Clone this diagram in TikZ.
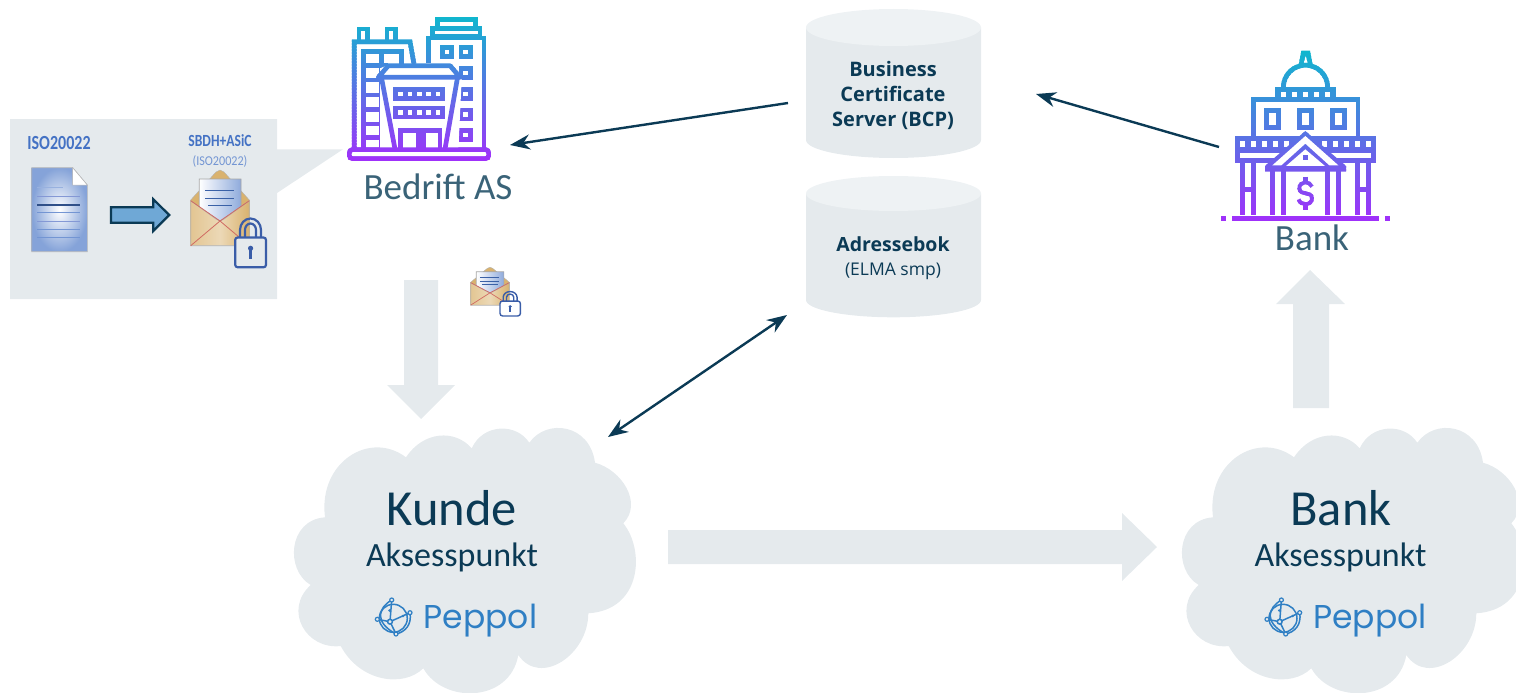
\documentclass[tikz,border=0pt]{standalone}
\usepackage{fontspec}
\usetikzlibrary{arrows.meta,calc}
\setmainfont{Carlito}
\newfontfamily\tah{Open Sans}
\newfontfamily\pep{Poppins}
\definecolor{paleg}{HTML}{E5EAED}
\definecolor{paleh}{HTML}{EEF2F4}
\definecolor{navy}{HTML}{0B3A55}
\definecolor{slate}{HTML}{3A6378}
\definecolor{gradA}{HTML}{10B6CE}
\definecolor{gradB}{HTML}{A22EFB}
\definecolor{docblue}{HTML}{4472C4}
\definecolor{lockblue}{HTML}{3A5DA8}
\definecolor{pepblue}{HTML}{2F7FC4}
\definecolor{flap}{HTML}{D9B26E}
\definecolor{redline}{HTML}{D06A62}
\definecolor{arrowfill}{HTML}{6FA8D6}
\newcommand{\gradstrips}[5]{% x1, x2, ymin, ymax, strips
  \foreach \ii in {0,...,#5}{%
    \pgfmathsetmacro\yy{#3+(#4-#3)*\ii/#5}%
    \pgfmathsetmacro\yz{\yy+(#4-#3)/#5+0.8}%
    \pgfmathsetmacro\pc{100*\ii/#5}%
    \colorlet{gc}{gradB!\pc!gradA}%
    \begin{scope}
      \clip (#1,\yy) rectangle (#2,\yz);
      \iconbody
    \end{scope}
  }%
}
\newcommand{\cloudshape}{
  (406,457.3) .. controls (423.3,431) and (455,429) .. (471.7,448.3)
  .. controls (483.3,423) and (516.7,423) .. (529.3,442.7)
  .. controls (546.7,418) and (590,424) .. (595,462.7)
  .. controls (622,470) and (643,503.3) .. (623.3,523.3)
  .. controls (645,550) and (642,610) .. (588.3,613.3)
  .. controls (588.3,655) and (540,687) .. (518.3,655)
  .. controls (510,703) and (443.3,704) .. (423.3,668.3)
  .. controls (403.3,688) and (360,682) .. (340.7,646)
  .. controls (306,650) and (283,610) .. (310.7,585)
  .. controls (285,570) and (288,520) .. (325,517.3)
  .. controls (318,462) and (370,430) .. (406,457.3) -- cycle}
\newcommand{\envelope}[2]{% line widths: red, lock
  \fill[flap,draw=gray!60,line width=.4pt] (190.7,200) -- (216,172) -- (220,170) -- (224,172) -- (249.3,200) -- (249.3,215) -- (190.7,215) -- cycle;
  \shade[draw=gray!70,line width=.7pt,left color=white,right color=docblue!60] (199.3,179) -- (241,179) -- (241,209) -- (224,220.7) -- (216,220.7) -- (199.3,209) -- cycle;
  \foreach \ya/\xa/\xb in {190/205/234, 198/205/234, 205/208/232}{\draw[docblue!85!black,line width=.7pt] (\xa,\ya) -- (\xb,\ya);}
  \shade[left color=flap!75!white,right color=flap,middle color=flap!50!white,draw=gray!60,line width=.7pt] (190.7,200.7) -- (216,219) -- (220,221) -- (224,219) -- (249.3,200.7) -- (249.3,245.7) -- (190.7,245.7) -- cycle;
  \draw[redline,line width=#1] (190.7,200.7) -- (220,221) -- (249.3,200.7) (190.7,245.7) -- (220,221) -- (249.3,245.7);
  \draw[lockblue,line width=#2] (240,237.5) -- (240,230) arc[start angle=180,end angle=360,x radius=10.5,y radius=11.5] -- (261,237.5);
  \draw[lockblue,line width=#2] (245,237.5) -- (245,230) arc[start angle=180,end angle=360,x radius=5.5,y radius=6.5] -- (256,237.5);
  \filldraw[draw=lockblue,fill=\lockfill,line width=#2,rounded corners=2.5pt] (235.2,237.5) rectangle (266,267.3);
  \fill[lockblue] (250.6,248.3) circle[radius=2.6];
  \fill[lockblue] (249.4,249) rectangle (251.8,259);
}
\newcommand{\pepglobe}{
  \begin{scope}[pepblue,line width=1.5pt,fill=pepblue]
    \draw (393.3,618.3) circle[radius=14];
    \draw (390,621.7) -- (410,612.7) (390,621.7) -- (396,634) (390,621.7) -- (377.3,619.3) (390,621.7) -- (391.7,600) ;
    \draw (391.7,600) .. controls (378,608) and (374,622) .. (396,634);
    \draw (410,612.7) .. controls (412,625) and (405,632) .. (396,634);
    \fill[fill=paleg,draw=pepblue] (390,621.7) circle[radius=2.4];
    \foreach \p in {(391.7,600),(410,612.7),(377.3,619.3),(396,634)}{\fill[fill=paleg,draw=pepblue,line width=1.2pt] \p circle[radius=2];}
    \fill (389.5,610.5) circle[radius=1.4] (403,616) circle[radius=1.4];
  \end{scope}
}
\begin{document}
\begin{tikzpicture}[x=1pt,y=-1pt,
  bigarrow/.style={fill=paleg,draw=none},
  link/.style={navy,line width=2.4pt},
  tip/.style={-{Stealth[length=20pt,width=15pt]}},
  tiptwo/.style={{Stealth[length=20pt,width=15pt]}-{Stealth[length=20pt,width=15pt]}},
  lbl/.style={inner sep=0pt,anchor=base,font=\fontsize{#1}{#1}\selectfont},
  ico/.style={draw=gc,line width=4.7pt,line join=miter,fill=none},
  box/.style={fill=gc,draw=none}]
\useasboundingbox (0,0) rectangle (1516,693);
\clip (0,0) rectangle (1516,693);

% callout
\fill[paleg] (10,119) -- (277,119) -- (277,149.3) -- (343,149.3) -- (277,193) -- (277,299) -- (10,299) -- cycle;

% document
\shade[inner color=white,outer color=docblue!65!white,draw=gray!55,line width=.6pt] (31.7,167.7) -- (72.7,167.7) -- (87.3,185) -- (87.3,251.7) -- (31.7,251.7) -- cycle;
\filldraw[fill=white,draw=gray!60,line width=.5pt] (72.7,167.7) -- (87.3,185) -- (72.7,185) -- cycle;
\foreach \ya/\xb/\cc/\lw in {187.3/62.7/docblue!55!white/.5pt, 196.3/79.5/cyan!35!blue!50!white/.5pt, 205/80/docblue!70!black/1.2pt, 212.7/79.5/docblue!75!white/.7pt, 221.3/79.5/cyan!35!blue!50!white/.7pt, 229.3/79.5/docblue!75!white/.7pt, 237.3/79.5/docblue!75!white/.7pt}{
  \draw[\cc,line width=\lw] (37.3,\ya) -- (\xb,\ya);}

% small arrow
\filldraw[fill=arrowfill,draw=navy,line width=2.2pt,line join=miter]
  (111,207.3) -- (153.3,207.3) -- (153.3,199.3) -- (169.3,215) -- (153.3,231) -- (153.3,222.7) -- (111,222.7) -- cycle;

% texts in callout
\node[lbl=20,text=docblue,xscale=.8,transform shape] (iso) at (59,149.5) {\bfseries ISO20022};
\node[lbl=17,text=docblue,xscale=.8,transform shape] (sbdh) at (220,146.5) {\bfseries SBDH+ASiC};
\node[lbl=13.5,text=docblue!75!white,xscale=.9,transform shape] (isosub) at (220,165.7) {(ISO20022)};

% envelopes
\def\lockfill{paleg}
\envelope{.8pt}{2.2pt}
\begin{scope}[shift={(344.8,182.3)},xscale=.66,yscale=.5]
  \def\lockfill{white}
  \envelope{.7pt}{1.4pt}
\end{scope}

% Bedrift icon
\def\iconbody{\begin{scope}[shift={(330,0)},scale=0.33333]
  \draw[ico] (322,58) rectangle (436,85);
  \draw[ico] (308,85) rectangle (450,108);
  \draw[ico] (296,190) -- (296,114) -- (462,114) -- (462,450);
  \foreach \xa/\ya in {337/142,393/142,393/205,393/268,393/330,393/392}{\draw[ico] (\xa,\ya) rectangle +(28,27);}
  \draw[ico] (87,125) -- (87,87) -- (113,87) -- (113,125);
  \draw[ico] (171,125) -- (171,87) -- (197,87) -- (197,125);
  \draw[ico] (73,450) -- (73,125) -- (240,125) -- (252,192);
  \draw[ico] (100,450) -- (100,155) -- (215,155) -- (215,192);
  \draw[ico] (155,155) -- (155,450);
  \foreach \ya in {197,240,285,328,372,412}{\draw[ico] (100,\ya) -- (155,\ya);}
  \draw[ico] (155,197) -- (175,197);
  \fill[white] (150,205) -- (175,195) -- (360,195) -- (395,238) -- (385,450) -- (150,450) -- cycle;
  \draw[ico,line join=round] (175,197) -- (360,197) -- (390,232) -- (145,232) -- cycle;
  \draw[ico] (155,236) -- (195,447);
  \draw[ico] (382,236) -- (345,447);
  \draw[ico] (212,447) -- (212,392) -- (265,392) -- (265,447);
  \draw[ico] (280,447) -- (280,392) -- (330,392) -- (330,447);
  \foreach \ya in {262,317}{
    \fill[box] (190,\ya) rectangle (346,\ya+40);
    \foreach \xa in {212,240,268,296,324}{\fill[white] (\xa-7,\ya+13) rectangle (\xa+7,\ya+27);}}
  \draw[ico,line width=4.6pt,rounded corners=3pt] (58,449) rectangle (476,476);
\end{scope}}
\gradstrips{345}{495}{16}{162}{48}

% Bank icon
\def\iconbody{\begin{scope}[shift={(1200,30)},scale=0.33333]
  \fill[box,even odd rule] (304,62) -- (330,62) -- (339,110) -- (295,110) -- cycle (317,76) -- (325,105) -- (309,105) -- cycle;
  \draw[ico] (250,172) arc[start angle=180,end angle=360,radius=66.5];
  \fill[box] (226,170) rectangle (407,210);
  \foreach \xa in {250,283,316,349,382}{\fill[white] (\xa-8,185) rectangle (\xa+8,201);}
  \draw[ico] (160,320) -- (160,208) -- (474,208) -- (474,320);
  \foreach \xa in {200,298,397}{\draw[ico] (\xa,242) rectangle +(36,51);}
  \fill[box] (104,318) rectangle (529,400);
  \foreach \xa in {128,160,193,226,259,373,406,439,472,505}{\fill[white] (\xa-8,334) rectangle (\xa+8,350);}
  \fill[white] (120,368) rectangle (512,385);
  \draw[ico] (127,400) -- (127,555) (160,400) -- (160,555) (473,400) -- (473,555) (506,400) -- (506,555);
  \draw[ico] (127,478) -- (160,478) (473,478) -- (506,478);
  \draw[ico] (218,420) -- (218,555) (250,420) -- (250,555) (382,420) -- (382,555) (415,420) -- (415,555);
  \fill[box] (316,303) -- (438,408) -- (438,425) -- (195,425) -- (195,408) -- cycle;
  \fill[white] (316,318) -- (415,406) -- (388,406) -- (316,341) -- (244,406) -- (217,406) -- cycle;
  \fill[white] (316,358) -- (375,408) -- (258,408) -- cycle;
  \fill[box] (309,375) rectangle (323,389);
  \draw[ico,line width=3.8pt,line cap=butt] (336,470) .. controls (330,452) and (298,452) .. (298,475) .. controls (298,498) and (336,482) .. (336,505) .. controls (336,528) and (300,528) .. (296,508);
  \draw[ico] (316,441) -- (316,456) (316,526) -- (316,541);
  \fill[box] (95,557) rectangle (538,574);
  \fill[box] (62,557) rectangle (78,574);
  \fill[box] (555,557) rectangle (571,574);
\end{scope}}
\gradstrips{1215}{1395}{50}{222}{56}

\node[lbl=37,text=slate] (bedrift) at (438,199) {Bedrift AS};
\node[lbl=37,text=slate] (banklbl) at (1312,250) {Bank};

% cylinders
\filldraw[paleg,draw=none] (806,27.5) -- (806,140) arc[start angle=180,end angle=0,x radius=87.5,y radius=18] -- (981,27.5) -- cycle;
\fill[paleh] (893.5,27.5) ellipse[x radius=87.5,y radius=18.5];
\filldraw[paleg,draw=none] (806,193.5) -- (806,300) arc[start angle=180,end angle=0,x radius=87.5,y radius=17.3] -- (981,193.5) -- cycle;
\fill[paleh] (893.5,193.5) ellipse[x radius=87.5,y radius=17.5];
\node[inner sep=0pt,align=center,text=navy,font=\tah\bfseries\fontsize{20}{25}\selectfont] (bcp) at (893,95.5) {Business\\Certificate\\Server (BCP)};
\node[lbl=19.5,text=navy] (adr) at (893,251.7) {\tah\bfseries Adressebok};
\node[lbl=17.5,text=navy] (elma) at (893,275) {\tah (ELMA smp)};

% big arrows
\fill[bigarrow] (404,280) -- (438,280) -- (438,385) -- (455,385) -- (421,419) -- (387,385) -- (404,385) -- cycle;
\fill[bigarrow] (1293,408) -- (1329,408) -- (1329,304) -- (1345,304) -- (1310,270) -- (1276,304) -- (1293,304) -- cycle;
\fill[bigarrow] (668,530) -- (1122,530) -- (1122,513) -- (1157,547) -- (1122,581) -- (1122,564) -- (668,564) -- cycle;

% clouds
\fill[paleg] \cloudshape;
\begin{scope}[xshift=888pt]
  \fill[paleg] \cloudshape;
\end{scope}

\node[lbl=50.5,text=navy] (kunde) at (452,525) {Kunde};
\node[lbl=34,text=navy] (ka) at (452,566.7) {Aksesspunkt};
\node[lbl=50.5,text=navy] (bankc) at (1341,525) {Bank};
\node[lbl=34,text=navy] (ba) at (1340.5,566.7) {Aksesspunkt};
\pepglobe
\begin{scope}[xshift=889.7pt]\pepglobe\end{scope}
\node[lbl=33,text=pepblue] (p1) at (480.5,628) {\pep Peppol};
\node[lbl=33,text=pepblue] (p2) at (1370,628) {\pep Peppol};

% connectors
\coordinate (bcpW) at (788,103);
\coordinate (bedE) at (510,145);
\coordinate (bankW) at (1219,147);
\coordinate (bcpE) at (1036,94);
\coordinate (adrS) at (787,315);
\coordinate (kundeN) at (608,437);
\draw[link,tip] (bcpW) -- (bedE);
\draw[link,tip] (bankW) -- (bcpE);
\draw[link,tiptwo] (adrS) -- (kundeN);
\end{tikzpicture}
\end{document}
